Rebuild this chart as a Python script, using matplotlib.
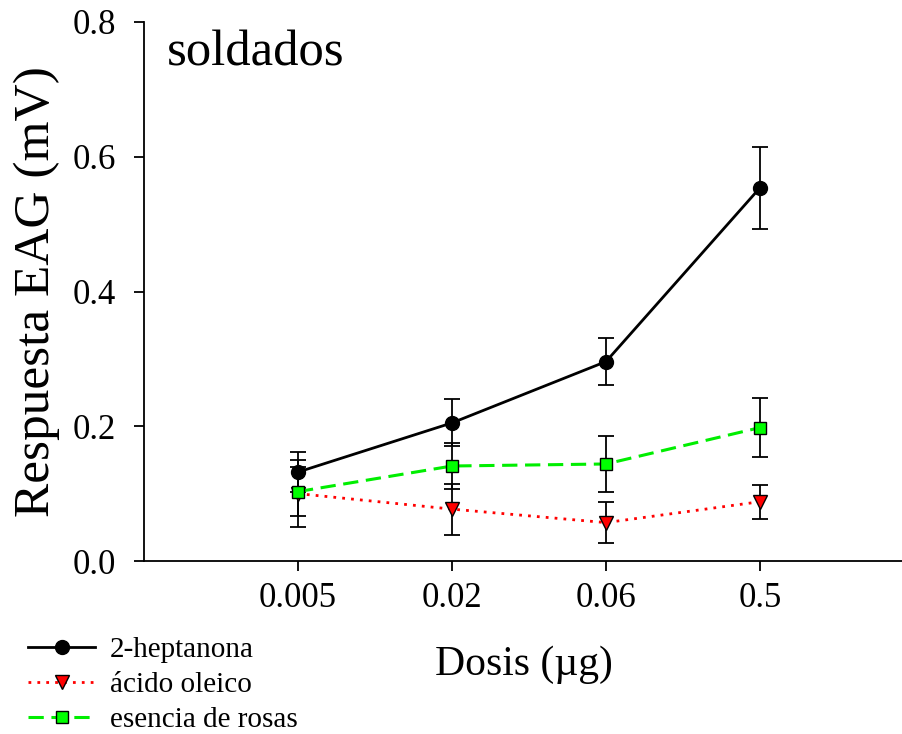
import matplotlib
matplotlib.use("Agg")
import matplotlib.pyplot as plt
from matplotlib.lines import Line2D

plt.rcParams['font.family'] = ['Liberation Serif', 'DejaVu Serif']

doses = ["0.005", "0.02", "0.06", "0.5"]

heptanona = [0.132, 0.205, 0.296, 0.554]
heptanona_err = [0.030, 0.035, 0.035, 0.061]

oleico = [0.100, 0.077, 0.057, 0.088]
oleico_err = [0.050, 0.038, 0.031, 0.025]

rosas = [0.103, 0.141, 0.144, 0.198]
rosas_err = [0.036, 0.034, 0.042, 0.044]

yticks = [0.0, 0.2, 0.4, 0.6, 0.8]
ytick_labels = ["0.0", "0.2", "0.4", "0.6", "0.8"]

fig = plt.figure(figsize=(9.03, 7.34), dpi=100)
ax = fig.add_axes([144 / 903, 173 / 734, (903 - 144) / 903, (561 - 22) / 734])

x = list(range(1, len(doses) + 1))

err_kw = dict(fmt="none", ecolor="black", elinewidth=1.3, capsize=5.5, capthick=1.3, zorder=2)
ax.errorbar(x, heptanona, yerr=heptanona_err, **err_kw)
ax.errorbar(x, oleico, yerr=oleico_err, **err_kw)
ax.errorbar(x, rosas, yerr=rosas_err, **err_kw)

hept_style = dict(color="black", lw=2.0, marker="o", ms=10, mfc="black", mec="black")
oleico_style = dict(color="#ff0000", lw=2.0, ls=(0, (1, 2.2)), marker="v", ms=10,
                    mfc="#ff0000", mec="black", mew=1.0)
rosas_style = dict(color="#00ee00", lw=2.2, ls=(0, (5, 2.5)), marker="s", ms=9,
                   mfc="#00ff00", mec="black", mew=1.0)

ax.plot(x, heptanona, zorder=4, **hept_style)
ax.plot(x, oleico, zorder=3, **oleico_style)
ax.plot(x, rosas, zorder=3, **rosas_style)

ax.set_xlim(0, (903 - 144) / 154)
ax.set_ylim(0, 0.8)
ax.set_xticks(x)
ax.set_xticklabels(doses)
ax.set_yticks(yticks)
ax.set_yticklabels(ytick_labels)

for side in ("top", "right"):
    ax.spines[side].set_visible(False)
for side in ("left", "bottom"):
    ax.spines[side].set_linewidth(1.3)

ax.tick_params(axis="both", direction="out", length=7, width=1.3, labelsize=25)
ax.tick_params(axis="y", pad=13)
ax.tick_params(axis="x", pad=8)

ax.set_ylabel("Respuesta EAG (mV)", fontsize=37, labelpad=9)
ax.set_xlabel("Dosis (µg)", fontsize=30, labelpad=22)

ax.text(0.030, 0.920, "soldados", transform=ax.transAxes, fontsize=36.5,
        ha="left", va="baseline")

handles = [Line2D([], [], **hept_style),
           Line2D([], [], **oleico_style),
           Line2D([], [], **rosas_style)]
labels = ["2-heptanona", "ácido oleico", "esencia de rosas"]
fig.legend(handles, labels, loc="upper left", bbox_to_anchor=(28 / 903, 1 - 637 / 734),
           frameon=False, fontsize=21, handlelength=2.3, handletextpad=0.5,
           labelspacing=0.29, borderpad=0, borderaxespad=0)

fig.savefig("out.png", dpi=100)
